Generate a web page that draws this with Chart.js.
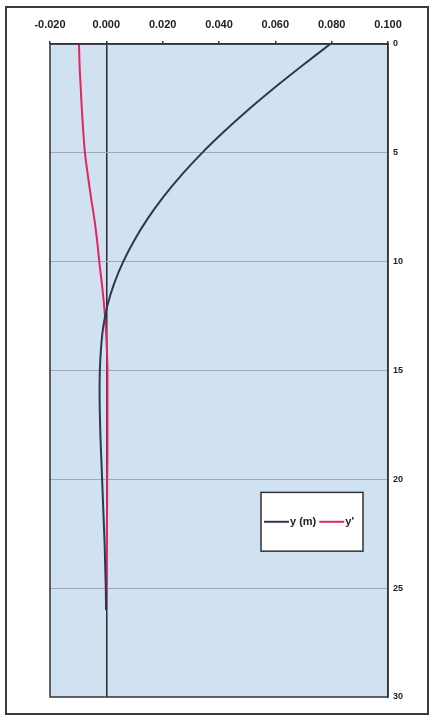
<!DOCTYPE html>
<html>
<head>
<meta charset="utf-8">
<script src="https://cdn.jsdelivr.net/npm/chart.js@4/dist/chart.umd.min.js"></script>
<style>
  html, body { margin: 0; padding: 0; background: #ffffff; }
  #wrap { position: relative; width: 435px; height: 720px; }
  #frame {
    position: absolute; left: 5px; top: 6px; width: 424px; height: 709px;
    border: 2px solid #3a3a3a; box-sizing: border-box; pointer-events: none;
  }
  canvas { position: absolute; left: 0; top: 0; }
</style>
</head>
<body>
<div id="wrap">
  <canvas id="chart" width="435" height="720"></canvas>
  <div id="frame"></div>
</div>
<script>
// Depth below pile head (m)
const depths = [0, 1, 2, 3, 4, 5, 6, 7, 8, 9, 10, 11, 12, 13, 14, 15, 16, 17, 18, 19, 20, 21, 22, 23, 24, 25, 26];

// Lateral deflection y (m)
const deflection = [0.0795, 0.0695, 0.0598, 0.0506, 0.0420, 0.0340, 0.0268, 0.0204, 0.0148, 0.0100,
  0.0060, 0.0028, 0.0004, -0.0011, -0.0019, -0.0023, -0.0024, -0.0023, -0.0021, -0.0018,
  -0.0015, -0.0012, -0.0009, -0.0006, -0.0004, -0.0002, -0.0001];

// Slope y'
const slope = [-0.0097, -0.0095, -0.0091, -0.0087, -0.0082, -0.0076, -0.0066, -0.0055, -0.0043, -0.0033,
  -0.0025, -0.0016, -0.0008, -0.0002, 0.0002, 0.0004, 0.0004, 0.0004, 0.0004, 0.0004,
  0.0003, 0.0003, 0.0002, 0.0002, 0.0001, 0.0001, 0.0000];

const seriesNames = ['y (m)', "y'"];
const xTicks = [-0.02, 0.0, 0.02, 0.04, 0.06, 0.08, 0.1];
const yTicks = [0, 5, 10, 15, 20, 25, 30];

const NAVY = '#2c3853';
const PINK = '#e3245f';
const FONT = '"Liberation Sans", Arial, sans-serif';

const toPoints = (vals) => vals.map((v, i) => ({ x: v, y: depths[i] }));

// Plot background and closed border around the chart area
const plotFrame = {
  id: 'plotFrame',
  beforeDraw(chart) {
    const { ctx, chartArea: a } = chart;
    ctx.save();
    ctx.fillStyle = '#d0e2f2';
    ctx.fillRect(a.left, a.top, a.right - a.left, a.bottom - a.top);
    ctx.restore();
  },
  afterDraw(chart) {
    const { ctx, chartArea: a } = chart;
    ctx.save();
    ctx.strokeStyle = '#333333';
    ctx.lineWidth = 1.5;
    ctx.strokeRect(a.left, a.top, a.right - a.left, a.bottom - a.top);
    ctx.restore();
  }
};

// Boxed legend placed inside the plot, lower right
const boxLegend = {
  id: 'boxLegend',
  afterDraw(chart) {
    const { ctx, chartArea: a } = chart;
    const ys = chart.scales.y;
    const left = a.right - 127;
    const top = ys.getPixelForValue(20.6);
    const w = 102, h = ys.getPixelForValue(23.3) - top;
    ctx.save();
    ctx.fillStyle = '#ffffff';
    ctx.fillRect(left, top, w, h);
    ctx.strokeStyle = '#333333';
    ctx.lineWidth = 1.5;
    ctx.strokeRect(left, top, w, h);
    ctx.font = 'bold 11px ' + FONT;
    ctx.textBaseline = 'middle';
    ctx.fillStyle = '#222222';
    const cy = top + h / 2;
    let x = left + 3;
    chart.data.datasets.forEach((ds) => {
      ctx.strokeStyle = ds.borderColor;
      ctx.lineWidth = 2;
      ctx.beginPath();
      ctx.moveTo(x, cy);
      ctx.lineTo(x + 25, cy);
      ctx.stroke();
      x += 26;
      ctx.fillText(ds.label, x, cy);
      x += ctx.measureText(ds.label).width + 3;
    });
    ctx.restore();
  }
};

new Chart(document.getElementById('chart'), {
  type: 'scatter',
  data: {
    datasets: [
      { label: seriesNames[0], data: toPoints(deflection), showLine: true, borderColor: NAVY, backgroundColor: NAVY, borderWidth: 2, pointRadius: 0, tension: 0.3 },
      { label: seriesNames[1], data: toPoints(slope), showLine: true, borderColor: PINK, backgroundColor: PINK, borderWidth: 2, pointRadius: 0, tension: 0.3 }
    ]
  },
  options: {
    responsive: false,
    animation: false,
    layout: { padding: { left: 50, right: 0, top: 0, bottom: 23 } },
    plugins: { legend: { display: false }, tooltip: { enabled: false } },
    scales: {
      x: {
        type: 'linear',
        position: 'top',
        min: xTicks[0],
        max: xTicks[xTicks.length - 1],
        afterBuildTicks: (scale) => { scale.ticks = xTicks.map((v) => ({ value: v })); },
        afterFit: (scale) => { scale.height = 44; },
        ticks: {
          autoSkip: false,
          maxRotation: 0,
          padding: 9,
          color: '#222222',
          font: { family: FONT, size: 11, weight: 'bold' },
          callback: (v) => (Math.abs(v) < 1e-9 ? 0 : v).toFixed(3)
        },
        grid: {
          drawOnChartArea: true,
          tickLength: 3,
          tickColor: '#333333',
          color: (c) => (c.tick && Math.abs(c.tick.value) < 1e-9 ? '#2a2a2a' : 'rgba(0,0,0,0)'),
          lineWidth: 1.5
        },
        border: { display: true, color: '#333333', width: 1.5 }
      },
      y: {
        type: 'linear',
        position: 'right',
        reverse: true,
        min: yTicks[0],
        max: yTicks[yTicks.length - 1],
        afterBuildTicks: (scale) => { scale.ticks = yTicks.map((v) => ({ value: v })); },
        afterFit: (scale) => { scale.width = 47; },
        ticks: {
          padding: 5,
          color: '#222222',
          font: { family: FONT, size: 9, weight: 'bold' }
        },
        grid: {
          drawTicks: false,
          color: (c) => (c.tick && (c.tick.value === 0 || c.tick.value === 30) ? 'rgba(0,0,0,0)' : '#a0aab4'),
          lineWidth: 1
        },
        border: { display: true, color: '#333333', width: 1.5 }
      }
    }
  },
  plugins: [plotFrame, boxLegend]
});
</script>
</body>
</html>
